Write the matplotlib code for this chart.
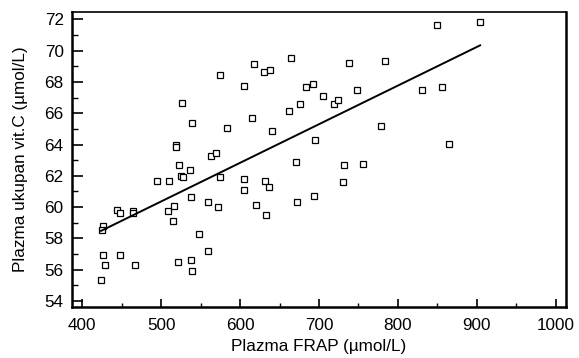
import numpy as np
import matplotlib.pyplot as plt
from matplotlib.ticker import MultipleLocator

plt.rcParams['font.family'] = ['Liberation Sans', 'DejaVu Sans']

# podaci ocitani sa slike
frap = [527, 539, 519, 519, 575, 605, 618, 630, 638, 664, 683, 693, 705, 676,
        662, 615, 584, 640, 695, 563, 570, 671, 849, 738, 783, 748, 830, 856,
        719, 724, 779, 864, 732, 756, 730, 904, 523, 537, 525, 528, 495, 510,
        538, 509, 517, 515, 444, 448, 464, 465, 426, 425, 427, 429, 448, 467,
        424, 521, 538, 539, 548, 575, 605, 605, 631, 637, 560, 572, 620, 633,
        672, 694, 560]
vitc = [66.65, 65.35, 64.0, 63.85, 68.46, 67.74, 69.14, 68.63, 68.76, 69.55,
        67.65, 67.85, 67.08, 66.59, 66.16, 65.67, 65.07, 64.88, 64.31, 63.27,
        63.44, 62.9, 71.62, 69.23, 69.34, 67.48, 67.48, 67.67, 66.57, 66.86,
        65.16, 64.05, 62.71, 62.77, 61.58, 71.81, 62.69, 62.37, 61.99, 61.9,
        61.67, 61.67, 60.63, 59.77, 60.09, 59.09, 59.8, 59.62, 59.73, 59.62,
        58.79, 58.52, 56.94, 56.3, 56.94, 56.3, 55.32, 56.49, 56.64, 55.92,
        58.3, 61.92, 61.78, 61.07, 61.67, 61.27, 60.31, 59.99, 60.12, 59.52,
        60.31, 60.69, 57.19]

# regresijski pravac (ocitan sa slike)
fit_slope = 0.0247
fit_intercept = 48.01

fig = plt.figure(figsize=(5.79, 3.58), dpi=100)
ax = fig.add_axes([0.1244, 0.1425, 0.8531, 0.824])

ax.plot(frap, vitc, 's', markersize=4.6, markerfacecolor='white',
        markeredgecolor='black', markeredgewidth=0.9, linestyle='none')

xl = np.array([min(frap), max(frap)])
ax.plot(xl, fit_intercept + fit_slope * xl, color='black', lw=1.4)

ax.set_xlim(387.3, 1012.7)
ax.set_ylim(53.62, 72.47)
ax.xaxis.set_major_locator(MultipleLocator(100))
ax.xaxis.set_minor_locator(MultipleLocator(50))
ax.yaxis.set_major_locator(MultipleLocator(2))
ax.yaxis.set_minor_locator(MultipleLocator(1))

ax.tick_params(axis='x', which='major', direction='in', length=5.5, width=1.2,
               labelsize=12.3, pad=8)
ax.tick_params(axis='x', which='minor', direction='in', length=3, width=1)
ax.tick_params(axis='y', which='major', direction='in', length=8, width=1.2,
               labelsize=12.3, pad=6)
ax.tick_params(axis='y', which='minor', direction='in', length=4.3, width=1)

for s in ['left', 'bottom', 'right']:
    ax.spines[s].set_linewidth(1.8)
ax.spines['top'].set_linewidth(1.2)

ax.set_xlabel('Plazma FRAP (µmol/L)', fontsize=12.3, labelpad=4)
ax.set_ylabel('Plazma ukupan vit.C (µmol/L)', fontsize=12.3, labelpad=12)

fig.savefig('out.png', dpi=100)
